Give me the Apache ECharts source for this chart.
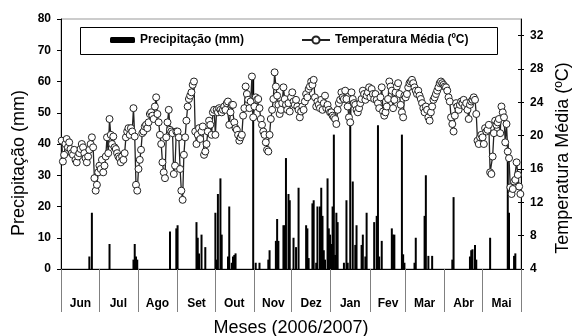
<!DOCTYPE html>
<html><head><meta charset="utf-8">
<script src="https://cdn.jsdelivr.net/npm/echarts@6/dist/echarts.min.js"></script>
<style>html,body{margin:0;padding:0;background:#fff}#c{width:574px;height:336px}</style>
</head><body><div id="c"></div>
<script>
// ---- data ----
const months = ['Jun','Jul','Ago','Set','Out','Nov','Dez','Jan','Fev','Mar','Abr','Mai'];
const monthDays = [30,31,31,30,31,30,31,31,28,31,30,31];

const leftTicks = [0,10,20,30,40,50,60,70,80];
const rightTicks = [4,8,12,16,20,24,28,32];

// daily mean temperature (ºC)
const tempJun = [19.4,16.9,17.7,19.0,19.6,18.6,19.2,18.4,17.9,17.7,18.3,17.1,16.8,17.5,17.9,18.4,19.0,18.6,17.9,17.3,16.8,17.5,18.3,19.0,19.8,18.6,14.9,13.4,14.1,15.6];
const tempJul = [16.4,16.0,17.1,15.6,16.4,17.5,19.8,17.9,22.0,20.1,19.0,19.9,18.6,18.4,17.9,17.5,17.3,16.8,17.5,17.1,17.9,19.8,20.5,20.9,20.1,20.9,20.5,23.3,19.9,14.1,13.4];
const tempAgo = [16.0,17.1,18.3,20.3,20.5,21.1,21.3,20.9,21.6,22.6,22.8,22.4,22.0,23.5,24.6,22.6,21.6,20.1,19.0,16.8,15.6,14.9,19.8,21.6,23.1,20.7,20.5,20.3,15.4,16.4,20.5];
const tempSet = [20.5,19.8,16.0,13.4,12.3,17.7,19.8,21.8,23.5,24.4,24.8,25.2,26.1,26.5,20.5,19.0,20.1,20.9,19.6,20.5,21.1,17.7,18.1,19.0,20.5,21.8,21.3,20.1,22.8,23.1];
const tempOut = [20.1,23.1,22.8,23.3,23.1,22.8,23.1,23.5,23.1,23.9,24.1,21.3,22.8,23.7,23.7,21.6,20.9,20.7,20.1,19.4,19.8,20.1,22.4,23.3,25.9,25.0,24.3,23.3,24.1,27.1,22.2];
const tempNov = [23.5,24.6,24.3,24.4,23.3,22.0,21.3,20.5,20.1,19.2,18.3,18.1,20.1,22.0,23.1,24.4,27.6,25.9,24.8,23.7,22.6,23.1,23.9,25.8,24.4,23.7,23.1,23.9,22.9,24.6];
const tempDez = [25.2,24.1,23.7,24.3,23.5,23.1,22.2,22.9,23.5,23.1,24.1,25.0,24.6,25.6,25.9,26.5,26.1,26.7,24.6,23.5,24.1,23.7,23.3,24.3,23.1,23.9,24.8,23.3,23.7,23.1,22.8];
const tempJan = [22.8,22.4,22.2,22.0,21.4,23.1,23.9,24.3,25.2,24.6,24.4,25.4,24.4,23.5,22.2,21.6,25.2,24.4,23.9,23.7,23.1,22.8,23.3,23.9,24.4,25.4,25.0,24.3,24.8,25.2,25.8];
const tempFev = [24.6,25.6,25.0,24.4,25.0,24.3,23.9,23.3,24.6,25.8,22.9,22.4,22.8,23.5,24.4,26.5,25.9,25.4,23.3,24.3,25.2,25.9,26.3,25.0,23.7,22.8,22.2,24.8];
const tempMar = [24.6,25.0,25.8,26.3,26.5,26.7,26.3,25.8,25.4,25.0,25.4,24.8,24.4,23.9,23.3,22.8,23.5,23.1,22.2,21.8,22.8,23.5,24.3,24.6,25.0,25.4,25.8,26.3,26.5,26.3,26.1];
const tempAbr = [25.9,25.8,25.4,24.6,24.1,22.2,21.4,20.5,22.4,23.9,23.5,23.1,23.7,24.1,23.9,24.3,23.5,23.9,23.1,22.0,23.7,24.1,24.3,24.6,24.3,22.6,19.4,19.0,19.8,20.1];
const tempMai = [19.8,19.0,20.9,20.5,20.7,21.3,15.6,15.4,17.5,20.3,21.8,21.3,21.6,22.0,20.3,23.5,22.8,22.2,19.2,21.4,18.1,17.3,13.8,13.0,13.6,14.5,14.7,16.8,15.3,13.9,13.0];

// daily precipitation (mm)
const rainJun = [0,0,0,0,0,0,0,0,0,0, 0,0,0,0,0,0,0,0,0,0, 0,0,4,0,18,0,0,0,0,0];
const rainJul = [0,0,0,0,0,0,0,0,8,0, 0,0,0,0,0,0,0,0,0,0, 0,0,0,0,0,0,0,3,8,4, 3];
const rainAgo = [0,0,0,0,0,0,0,0,0,0, 0,0,0,0,0,0,0,0,0,0, 0,0,0,0,0,12,0,0,0,0, 13];
const rainSet = [14,0,0,0,0,0,0,0,0,0, 0,0,0,0,0,15,10,5,0,11, 0,0,7,0,0,0,0,0,0,0];
const rainOut = [18,3,24,0,29,11,0,0,0,0, 4,20,0,2,4,4.5,5,0,0,0, 0,0,0,0,0,0,0,0,0,0, 61];
const rainNov = [0,2,0,0,2,0,0,0,0,0, 0,3,6,0,0,0,0,9,16,9, 0,0,0,14,14,35.5,0,24,22,0];
const rainDez = [0,10,0,7,0,26,0,0,0,0, 0,14,13,3.5,0,0,21,22,0,2, 20,0,20,26,17,6,3,0,29,13, 11];
const rainJan = [8,20,43,4.5,18,15,0,0,0,0, 2,0,22,2,0,55,0,28,0,7.7, 14,0,0,0,7.7,11,0,4,18,0, 0];
const rainFev = [0,0,0,15,0,17,46,4,0,9, 0,0,0,0,0,0,0,13,11,11, 0,0,0,0,0,43,4.7,2];
const rainMar = [0,0,0,0,0,0,0,2,10,0, 0,0,0,0,0,17,30,0,4.2,0, 0,4.2,0,0,0,0,0,0,0,0, 0];
const rainAbr = [0,0,0,0,0,0,3,23,0,0, 0,0,0,0,0,0,0,0,0,0, 4,6,6.3,0,7.7,3,0,0,0,0];
const rainMai = [0,0,0,0,0,0,10,0,0,0, 0,0,0,0,0,0,0,0,0,0, 40,18,0,0,0,4.2,5,0,0,0, 0];

// ---- build ----
const temps = [tempJun,tempJul,tempAgo,tempSet,tempOut,tempNov,tempDez,tempJan,tempFev,tempMar,tempAbr,tempMai];
const rains = [rainJun,rainJul,rainAgo,rainSet,rainOut,rainNov,rainDez,rainJan,rainFev,rainMar,rainAbr,rainMai];
const days = [], tempData = [], rainData = [];
const startSet = new Set(), midSet = new Set();
let k = 0;
months.forEach((m, mi) => {
  startSet.add(k);
  midSet.add(k + Math.floor(monthDays[mi] / 2));
  for (let d = 0; d < monthDays[mi]; d++) {
    days.push(m + ' ' + (d + 1));
    tempData.push(temps[mi][d]);
    rainData.push(rains[mi][d]);
    k++;
  }
});

const FONT = '"Liberation Sans", Arial, Helvetica, sans-serif';
const chart = echarts.init(document.getElementById('c'), null, {renderer: 'canvas'});
chart.setOption({
  animation: false,
  backgroundColor: '#fff',
  textStyle: {fontFamily: FONT},
  grid: {left: 61, right: 53, top: 19, bottom: 67, show: true, borderColor: '#999', borderWidth: 1,
         containLabel: false, outerBoundsMode: 'none'},
  legend: [
    {data: ['Precipitação (mm)'], left: 110, top: 34, padding: 0, itemWidth: 25, itemHeight: 6, selectedMode: false,
     textStyle: {fontSize: 12, fontWeight: 'bold', color: '#000', fontFamily: FONT}},
    {data: ['Temperatura Média (ºC)'], left: 301, top: 34, padding: 0, itemWidth: 28, itemHeight: 9, selectedMode: false,
     textStyle: {fontSize: 12, fontWeight: 'bold', color: '#000', fontFamily: FONT}}
  ],
  graphic: [
    {type: 'rect', z: 3, shape: {x: 80.5, y: 27.5, width: 417, height: 27},
     style: {fill: '#fff', stroke: '#000', lineWidth: 1}},
    {type: 'text', x: 19, y: 163, rotation: Math.PI / 2,
     style: {text: 'Precipitação (mm)', fontSize: 18, fontFamily: FONT, fill: '#000', align: 'center', verticalAlign: 'middle'}},
    {type: 'text', x: 563, y: 158, rotation: Math.PI / 2,
     style: {text: 'Temperatura Média (ºC)', fontSize: 18, fontFamily: FONT, fill: '#000', align: 'center', verticalAlign: 'middle'}}
  ],
  xAxis: {
    type: 'category', data: days, boundaryGap: true,
    axisLine: {lineStyle: {color: '#000', width: 1}},
    axisTick: {show: true, length: 43, interval: (i) => startSet.has(i), lineStyle: {color: '#808080', width: 1}},
    axisLabel: {interval: (i) => midSet.has(i), formatter: (v) => v.split(' ')[0], margin: 29,
      fontSize: 12, fontWeight: 'bold', color: '#000', fontFamily: FONT},
    splitLine: {show: false},
    name: 'Meses (2006/2007)', nameLocation: 'middle', nameGap: 50,
    nameTextStyle: {fontSize: 18, color: '#000', fontFamily: FONT}
  },
  yAxis: [
    {type: 'value', min: 0, max: 80, interval: 10, position: 'left',
     axisLine: {show: true, lineStyle: {color: '#000'}},
     axisTick: {show: true, length: 4, lineStyle: {color: '#000'}, customValues: leftTicks},
     axisLabel: {margin: 10, fontSize: 12, fontWeight: 'bold', color: '#000', fontFamily: FONT, customValues: leftTicks},
     splitLine: {show: false}},
    {type: 'value', min: 4, max: 34, interval: 4, position: 'right',
     axisLine: {show: true, lineStyle: {color: '#000'}},
     axisTick: {show: true, length: 3, lineStyle: {color: '#000'}, customValues: rightTicks},
     axisLabel: {margin: 9, fontSize: 12, fontWeight: 'bold', color: '#000', fontFamily: FONT, customValues: rightTicks},
     splitLine: {show: false}},
    {type: 'value', min: 4, max: 34, interval: 4, position: 'right',
     axisLine: {show: false},
     axisTick: {show: true, inside: true, length: 3, lineStyle: {color: '#000'}, customValues: rightTicks},
     axisLabel: {show: false}, splitLine: {show: false}}
  ],
  series: [
    {name: 'Precipitação (mm)', type: 'bar', data: rainData, xAxisIndex: 0, yAxisIndex: 0,
     barWidth: 2, itemStyle: {color: '#000'}, z: 2},
    {name: 'Temperatura Média (ºC)', type: 'line', data: tempData, xAxisIndex: 0, yAxisIndex: 1,
     symbol: 'circle', symbolSize: 7, showAllSymbol: true,
     lineStyle: {color: '#222', width: 1.3},
     itemStyle: {color: '#fff', borderColor: '#222', borderWidth: 1}, z: 3}
  ]
});
</script></body></html>
